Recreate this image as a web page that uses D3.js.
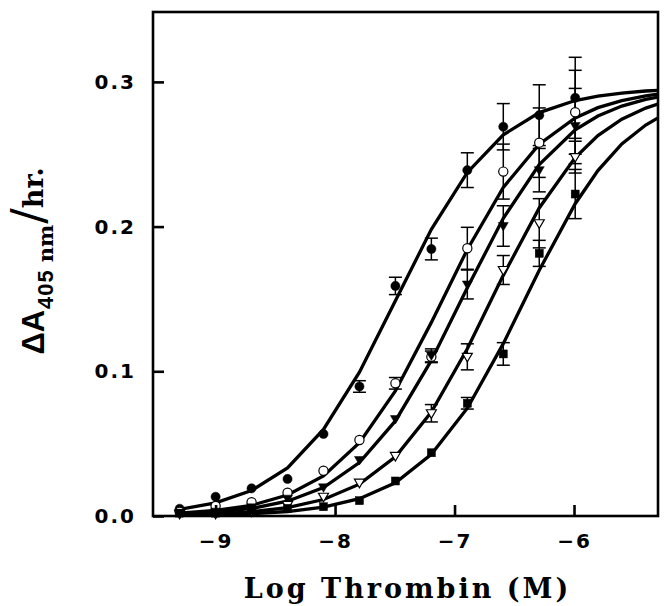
<!DOCTYPE html>
<html>
<head>
<meta charset="UTF-8">
<script src="https://d3js.org/d3.v7.min.js"></script>
<style>
  body { margin: 0; background: #fff; }
</style>
</head>
<body>
<div id="chart"></div>
<script>
// log [thrombin] at which activity was measured (2-fold dilutions)
const logConc = [-9.301, -9.0, -8.699, -8.398, -8.097, -7.796, -7.495, -7.194, -6.893, -6.592, -6.291, -5.990];

// measured points + error (SD) for the five series
const fcVals = [0.005, 0.0133, 0.0191, 0.0256, 0.0567, 0.0895, 0.159, 0.1845, 0.239, 0.269, 0.277, 0.289];
const fcErr  = [0, 0, 0, 0, 0, 0.004, 0.006, 0.0075, 0.012, 0.016, 0.021, 0.028];
const ocVals = [0.003, 0.0069, 0.0095, 0.0161, 0.0313, 0.0525, 0.0917, 0.110, 0.185, 0.238, 0.258, 0.279];
const ocErr  = [0, 0, 0, 0, 0, 0, 0.004, 0.004, 0.0145, 0.019, 0.024, 0.029];
const ftVals = [0.002, 0.003, 0.006, 0.012, 0.0198, 0.0387, 0.067, 0.111, 0.160, 0.2004, 0.239, 0.2695];
const ftErr  = [0, 0, 0, 0, 0, 0, 0, 0.0045, 0.010, 0.014, 0.015, 0.026];
const otVals = [0.0015, 0.0015, 0.003, 0.0076, 0.0133, 0.023, 0.0415, 0.071, 0.110, 0.170, 0.2023, 0.248];
const otErr  = [0, 0, 0, 0, 0, 0, 0, 0.006, 0.009, 0.010, 0.017, 0.011];
const fsVals = [0.002, 0.002, 0.0037, 0.0053, 0.0064, 0.0106, 0.0242, 0.0437, 0.0779, 0.112, 0.1815, 0.2225];
const fsErr  = [0, 0, 0, 0, 0, 0, 0, 0, 0.004, 0.0078, 0.009, 0.017];

// fitted curves
const fitX = [-9.301, -9.0, -8.699, -8.398, -8.097, -7.796, -7.495, -7.194, -6.893, -6.592, -6.291, -5.990, -5.8, -5.6, -5.4, -5.297];
const fitA = [0.0046, 0.0091, 0.0176, 0.0332, 0.0598, 0.0994, 0.1488, 0.1981, 0.2374, 0.2634, 0.2788, 0.2871, 0.2902, 0.2923, 0.2937, 0.2941];
const fitB = [0.0019, 0.0038, 0.0074, 0.0145, 0.0277, 0.0506, 0.0864, 0.1338, 0.1842, 0.2271, 0.2570, 0.2751, 0.2822, 0.2871, 0.2903, 0.2915];
const fitC = [0.0013, 0.0026, 0.0052, 0.0102, 0.0197, 0.0369, 0.0657, 0.1075, 0.1577, 0.2057, 0.2428, 0.2668, 0.2764, 0.2833, 0.2879, 0.2895];
const fitD = [0.0007, 0.0015, 0.0029, 0.0058, 0.0114, 0.0220, 0.0409, 0.0719, 0.1156, 0.1663, 0.2129, 0.2477, 0.2629, 0.2742, 0.2819, 0.2847];
const fitE = [0.0004, 0.0008, 0.0015, 0.0031, 0.0061, 0.0120, 0.0230, 0.0426, 0.0745, 0.1191, 0.1698, 0.2158, 0.2387, 0.2571, 0.2702, 0.2751];

const xTicks = [-9, -8, -7, -6];
const yTicks = [0.0, 0.1, 0.2, 0.3];

const W = 665, H = 606;
const margin = {top: 12, right: 7, bottom: 90, left: 153};
const width = W - margin.left - margin.right,
      height = H - margin.top - margin.bottom;

const svg = d3.select("#chart").append("svg")
  .attr("width", W).attr("height", H);
const g = svg.append("g").attr("transform", `translate(${margin.left},${margin.top})`);

const x = d3.scaleLinear().domain([-9.524, -5.297]).range([0, width]);
const y = d3.scaleLinear().domain([0, 0.3483]).range([height, 0]);

svg.append("defs").append("clipPath").attr("id", "clip")
  .append("rect").attr("width", width).attr("height", height);

// curves
const line = d3.line().x(d => x(d[0])).y(d => y(d[1]));
const fits = [fitA, fitB, fitC, fitD, fitE];
g.append("g").attr("clip-path", "url(#clip)")
  .selectAll("path").data(fits).join("path")
  .attr("d", f => line(fitX.map((v, i) => [v, f[i]])))
  .attr("fill", "none").attr("stroke", "#000").attr("stroke-width", 3.3);

// series
const series = [
  {vals: fcVals, err: fcErr, shape: "circle", filled: true},
  {vals: ocVals, err: ocErr, shape: "circle", filled: false},
  {vals: ftVals, err: ftErr, shape: "tri", filled: true},
  {vals: otVals, err: otErr, shape: "tri", filled: false},
  {vals: fsVals, err: fsErr, shape: "square", filled: true}
];

const capW = 6.5;
series.forEach(s => {
  const pts = logConc.map((lc, i) => ({lc, v: s.vals[i], e: s.err[i]}));
  const eb = g.append("g").selectAll("g").data(pts.filter(p => p.e > 0)).join("g")
    .attr("stroke", "#000").attr("stroke-width", 1.5);
  eb.append("line").attr("x1", d => x(d.lc)).attr("x2", d => x(d.lc))
    .attr("y1", d => y(d.v - d.e)).attr("y2", d => y(d.v + d.e));
  eb.append("line").attr("x1", d => x(d.lc) - capW).attr("x2", d => x(d.lc) + capW)
    .attr("y1", d => y(d.v + d.e)).attr("y2", d => y(d.v + d.e));
  eb.append("line").attr("x1", d => x(d.lc) - capW).attr("x2", d => x(d.lc) + capW)
    .attr("y1", d => y(d.v - d.e)).attr("y2", d => y(d.v - d.e));
});

series.forEach(s => {
  const pts = logConc.map((lc, i) => ({lc, v: s.vals[i]}));
  const sel = g.append("g").selectAll(".m").data(pts).join(
    s.shape === "circle" ? "circle" : (s.shape === "square" ? "rect" : "path"));
  sel.attr("fill", s.filled ? "#000" : "#fff")
     .attr("stroke", "#000").attr("stroke-width", s.filled ? 0.5 : 1.2);
  if (s.shape === "circle") {
    sel.attr("cx", d => x(d.lc)).attr("cy", d => y(d.v)).attr("r", 4.6);
  } else if (s.shape === "square") {
    sel.attr("x", d => x(d.lc) - 4).attr("y", d => y(d.v) - 4).attr("width", 8).attr("height", 8);
  } else {
    sel.attr("d", d => {
      const cx = x(d.lc), cy = y(d.v);
      return `M${cx - 5},${cy - 3.5}L${cx + 5},${cy - 3.5}L${cx},${cy + 5}Z`;
    });
  }
});

// frame + inward ticks
g.append("rect").attr("width", width).attr("height", height)
  .attr("fill", "none").attr("stroke", "#000").attr("stroke-width", 2.6);

const tickFont = "'DejaVu Sans', sans-serif";
const xa = g.append("g").attr("transform", `translate(0,${height})`)
  .call(d3.axisBottom(x).tickValues(xTicks).tickSizeInner(-11).tickSizeOuter(0).tickPadding(18)
    .tickFormat(d => "\u2212" + Math.abs(d)));
const ya = g.append("g")
  .call(d3.axisLeft(y).tickValues(yTicks).tickSizeInner(-11).tickSizeOuter(0).tickPadding(17)
    .tickFormat(d3.format(".1f")));
[xa, ya].forEach(a => {
  a.select(".domain").remove();
  a.selectAll(".tick line").attr("stroke-width", 2.6);
  a.selectAll(".tick text").attr("font-family", tickFont).attr("font-weight", "bold")
    .attr("font-size", 20).attr("letter-spacing", 2).attr("fill", "#000");
});

// axis titles
svg.append("text")
  .attr("x", margin.left + width / 2 + 2).attr("y", 598)
  .attr("text-anchor", "middle")
  .attr("font-family", "'DejaVu Serif', serif").attr("font-weight", "bold")
  .attr("font-size", 27).attr("letter-spacing", 3)
  .text("Log Thrombin (M)");

const yt = svg.append("text")
  .attr("transform", "translate(44,261) rotate(-90)")
  .attr("text-anchor", "middle")
  .attr("font-weight", "bold");
yt.append("tspan").attr("font-family", "'Liberation Sans', sans-serif").attr("font-size", 31).text("ΔA");
yt.append("tspan").attr("font-family", "'Liberation Sans', sans-serif").attr("font-size", 22).attr("dy", 9).attr("dx", 1).attr("letter-spacing", 1).text("405");
yt.append("tspan").attr("font-family", "'DejaVu Serif', serif").attr("font-size", 21).attr("dx", 7).text("nm");
yt.append("tspan").attr("font-family", "'DejaVu Sans', sans-serif").attr("font-weight", "normal")
  .attr("font-size", 46).attr("dy", -9).attr("dx", 1).text("/");
yt.append("tspan").attr("font-family", "'DejaVu Serif', serif").attr("font-size", 27).attr("dy", -1).text("hr.");
</script>
</body>
</html>
